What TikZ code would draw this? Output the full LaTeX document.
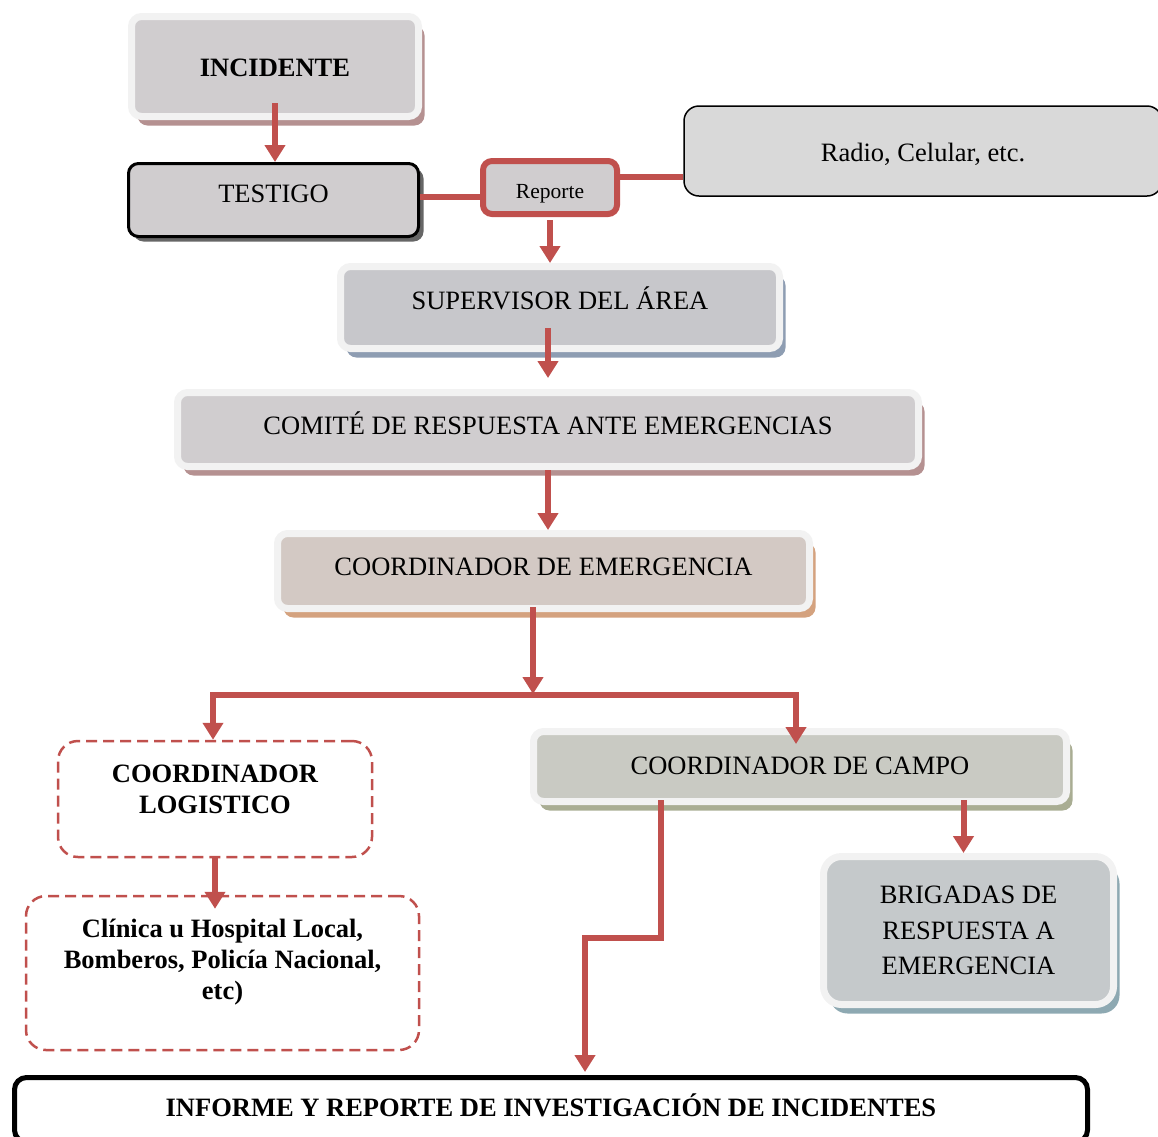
\documentclass[tikz,border=0pt]{standalone}
\usepackage{fontspec}
\setmainfont{Liberation Serif}
\usetikzlibrary{arrows.meta,shadows}
\definecolor{rd}{HTML}{C0504D}
\definecolor{frm}{HTML}{F2F2F2}
\definecolor{gfill}{HTML}{D0CDCF}
\definecolor{incsh}{HTML}{B59191}
\definecolor{supf}{HTML}{C7C7CB}
\definecolor{supsh}{HTML}{8E9DB2}
\definecolor{emgf}{HTML}{D3C9C4}
\definecolor{emgsh}{HTML}{D4A27F}
\definecolor{camf}{HTML}{C9CAC3}
\definecolor{camsh}{HTML}{A9AD93}
\definecolor{brif}{HTML}{C5C9CB}
\definecolor{brish}{HTML}{8EA9B2}
\definecolor{radf}{HTML}{D9D9D9}
\newcommand{\fs}{\fontsize{26.5}{31}\selectfont}

\begin{document}
\begin{tikzpicture}[x=1pt,y=-1pt,
  gbox/.style 2 args={draw=frm,line width=7pt,rounded corners=10pt,fill=#1,inner sep=0pt,
    drop shadow={shadow xshift=6pt,shadow yshift=-9pt,fill=#2,opacity=1},font=\fs},
  dbox/.style={draw=rd,line width=2.5pt,dash pattern=on 11pt off 6pt,rounded corners=20pt,inner sep=0pt},
  arr/.style={draw=rd,line width=6pt,-{Triangle[width=20pt,length=17pt]}},
  rline/.style={draw=rd,line width=6pt},
  th/.style 2 args={text height=#1,text depth=#2}]
\useasboundingbox (0,0) rectangle (1158,1136);
\clip (0,0) rectangle (1158,1136);

\node[gbox={gfill}{incsh},minimum width=287pt,minimum height=100pt,font=\fs\bfseries,th={20.5pt}{0pt}] (inc) at (275,66.5) {INCIDENTE};
\node[draw=black,line width=3pt,rounded corners=10pt,fill=gfill,minimum width=290pt,minimum height=73pt,font=\fs,th={17.5pt}{12pt},
  drop shadow={shadow xshift=5pt,shadow yshift=-5pt,fill=black!60,opacity=1}] (tes) at (273.5,200) {TESTIGO};
\node[draw=rd,line width=6pt,rounded corners=9pt,fill=gfill,minimum width=134pt,minimum height=53pt,th={21.2pt}{0pt},
  font=\fontsize{21.5}{25}\selectfont] (rep) at (550,187.5) {Reporte};
\node[draw=black,line width=1.5pt,rounded corners=15pt,fill=radf,minimum width=478pt,minimum height=90pt,font=\fs,th={21.5pt}{0pt}] (rad) at (923,151) {Radio, Celular, etc.};
\node[gbox={supf}{supsh},minimum width=439pt,minimum height=82pt,th={17.5pt}{13pt}] (sup) at (560,307.5) {SUPERVISOR DEL ÁREA};
\node[gbox={gfill}{incsh},minimum width=741pt,minimum height=74pt,th={17.5pt}{7pt}] (com) at (548,429.5) {COMITÉ DE RESPUESTA ANTE EMERGENCIAS};
\node[gbox={emgf}{emgsh},minimum width=532pt,minimum height=75pt,th={17.5pt}{8pt}] (emg) at (543.5,571) {COORDINADOR DE EMERGENCIA};
\node[gbox={camf}{camsh},minimum width=533pt,minimum height=70pt,th={17.5pt}{1pt}] (cam) at (800,766.5) {COORDINADOR DE CAMPO};
\node[gbox={brif}{brish},minimum width=290pt,minimum height=148pt,rounded corners=18pt,align=center,
  font=\fontsize{26.5}{35.5}\selectfont] (bri) at (968.5,930.5) {BRIGADAS DE\\RESPUESTA A\\EMERGENCIA};

\node[dbox,minimum width=314pt,minimum height=116pt] (logi) at (215,799) {};
\node[align=center,font=\fs\bfseries] (logit) at (215,789) {COORDINADOR\\LOGISTICO};
\node[dbox,minimum width=393pt,minimum height=154pt] (cli) at (222.5,973) {};
\node[align=center,font=\fs\bfseries] (clit) at (222.5,962) {Clínica u Hospital Local,\\Bomberos, Policía Nacional,\\etc)};

\node[draw=black,line width=5pt,rounded corners=12pt,fill=white,minimum width=1073pt,minimum height=64.5pt,
  font=\fs\bfseries,th={17.5pt}{3.5pt}] (inf) at (551,1109.75) {INFORME Y REPORTE DE INVESTIGACIÓN DE INCIDENTES};

\draw[arr] ([yshift=17pt]inc.south) -- (inc.south |- tes.north);
\draw[rline] ([yshift=3pt]tes.east) -- ([yshift=3pt]tes.east -| rep.west);
\draw[rline] ([yshift=10.5pt]rep.east) -- ([yshift=10.5pt]rep.east -| rad.west);
\draw[arr] ([yshift=-3pt]rep.south) -- (rep.south |- sup.north);
\draw[arr] ([yshift=24pt]com.north |- sup.south) -- ([yshift=11pt]com.north);
\draw[arr] (com.south) -- (com.south |- emg.north);

\coordinate (jn) at (533,695);
\coordinate (jl) at (213,695);
\coordinate (jr) at (796,695);
\draw[arr] ([yshift=5pt]jn |- emg.south) -- ([yshift=1pt]jn);
\draw[arr] (jr) -- (jl) -- (jl |- logi.north);
\draw[arr] (jl) -- (jr) -- ([yshift=-16pt]jr |- cam.north);
\draw[arr] (logi.south) -- ([yshift=-14pt]logi.south |- cli.north);

\coordinate (k1) at (661,938);
\coordinate (k2) at (585,938);
\draw[arr] ([yshift=5pt]k1 |- cam.south) -- (k1) -- (k2) -- ([yshift=3pt]k2 |- inf.north);
\draw[arr] ([xshift=-5pt,yshift=5pt]bri.north |- cam.south) -- ([xshift=-5pt]bri.north);
\end{tikzpicture}
\end{document}
